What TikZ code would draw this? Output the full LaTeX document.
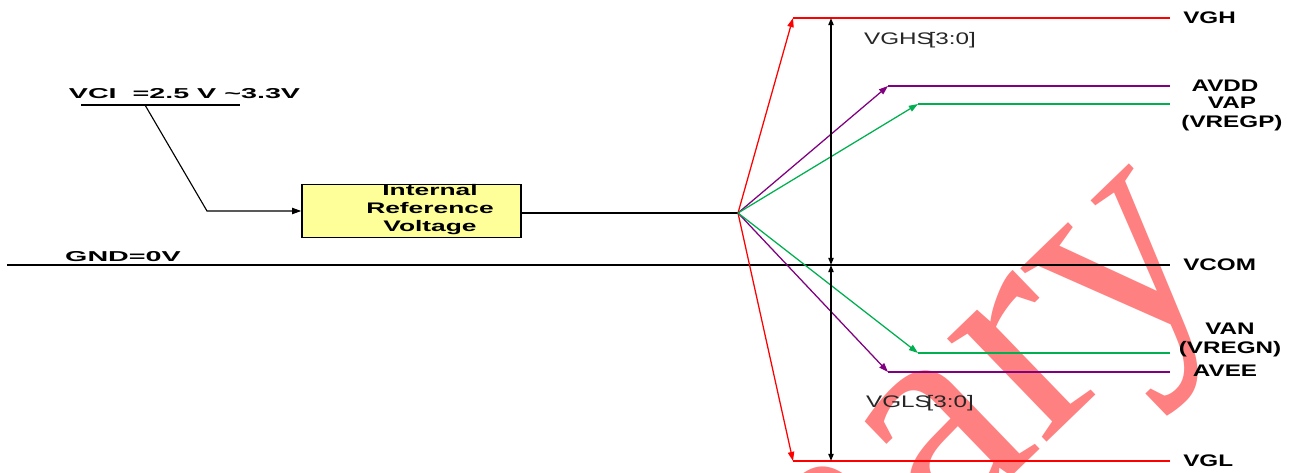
\documentclass[tikz,border=0pt]{standalone}
\usepackage{fontspec}
\setmainfont{Liberation Sans}
\newfontfamily\railfont[FakeStretch=1.45]{Liberation Sans}
\newfontfamily\vcifont[FakeStretch=2.0]{Liberation Sans}
\newfontfamily\boxfont[FakeStretch=1.72]{Liberation Sans}
\newfontfamily\stepfont[FakeStretch=1.45]{Liberation Sans}
\newfontfamily\wmfont{Liberation Serif}
\usetikzlibrary{arrows.meta}
\definecolor{wmred}{RGB}{255,128,128}
\definecolor{vred}{RGB}{255,0,0}
\definecolor{vpurple}{RGB}{128,0,128}
\definecolor{vgreen}{RGB}{0,176,80}
\definecolor{irvfill}{RGB}{255,255,153}

\begin{document}
\begin{tikzpicture}[x=0.025cm,y=0.025cm,
   tip/.style={-{Triangle[length=6.5pt,width=4.5pt]}},
   dimtip/.style={{Triangle[length=5pt,width=3.6pt]}-{Triangle[length=5pt,width=3.6pt]}},
   fanline/.style={line width=0.9pt},
   rail/.style={line width=1.9pt},
   rlabel/.style={inner sep=0pt,align=center,font=\railfont\bfseries\fontsize{11.9}{13.5}\selectfont},
   vlabel/.style={inner sep=0pt,font=\vcifont\bfseries\fontsize{10.2}{11}\selectfont},
   steplabel/.style={inner sep=0pt,text=black!85,font=\stepfont\fontsize{11.9}{13}\selectfont},
   irv/.style={draw,line width=1.1pt,fill=irvfill,minimum width=5.475cm,minimum height=1.325cm,inner sep=0pt},
   irvtext/.style={align=center,inner sep=0pt,font=\boxfont\bfseries\fontsize{10.9}{12.8}\selectfont},
   wmark/.style={anchor=base east,rotate=44,inner sep=0pt,text=wmred,font=\wmfont\fontsize{222}{222}\selectfont}]
   \useasboundingbox (0,0) rectangle (1298,-473);
   % watermark
   \begin{scope}
   \clip (0,0) rectangle (1298,-473);
   \node[wmark] (WM) at (1230,-266) {Preliminary};
   \end{scope}

   % supply input
   \node[vlabel] (VCI) at (184.5,-94) {VCI\ \ =2.5 V \textasciitilde3.3V};
   \coordinate (ulA) at (81,-105);
   \coordinate (ulB) at (240,-105);
   \coordinate (tap) at (145,-105);
   \coordinate (bend) at (207,-211);
   \node[irv] (IRV) at (411.5,-211) {};
   \node[irvtext] (IRVT) at (430,-210) {Internal\\Reference\\Voltage};
   \draw[line width=1pt] (ulA) -- (ulB);
   \draw[line width=0.8pt,tip] (tap) -- (bend) -- (IRV.west);

   % ground / VCOM
   \node[vlabel] (GND) at (123,-257) {GND=0V};
   \coordinate (gndA) at (7,-265);
   \coordinate (gndB) at (1170,-265);
   \draw[line width=1.3pt] (gndA) -- (gndB);

   % fan out
   \coordinate (fan) at (738,-213);
   \draw[line width=1pt] (IRV.east |- fan) -- (fan);
   \coordinate (vghc) at (793,-18);   \coordinate (vghe) at (1170,-18);
   \coordinate (avddc) at (888,-86);  \coordinate (avdde) at (1170,-86);
   \coordinate (vapc) at (918,-104);  \coordinate (vape) at (1170,-104);
   \coordinate (vanc) at (918,-353);  \coordinate (vane) at (1170,-353);
   \coordinate (aveec) at (888,-372); \coordinate (aveee) at (1170,-372);
   \coordinate (vglc) at (793,-461);  \coordinate (vgle) at (1170,-461);
   \path[fanline,tip,vred] (fan) edge (vghc) (fan) edge (vglc);
   \path[fanline,tip,vpurple] (fan) edge (avddc) (fan) edge (aveec);
   \path[fanline,tip,vgreen] (fan) edge (vapc) (fan) edge (vanc);
   \path[rail,vred] (vghc) edge (vghe) (vglc) edge (vgle);
   \path[rail,vpurple] (avddc) edge (avdde) (aveec) edge (aveee);
   \path[rail,vgreen] (vapc) edge (vape) (vanc) edge (vane);

   % VGH / VGL ranges
   \coordinate (dimT) at (831,-18);
   \coordinate (dimM) at (831,-265);
   \coordinate (dimB) at (831,-461);
   \path[line width=1.1pt,dimtip] (dimM) edge (dimT) (dimM) edge (dimB);
   \node[steplabel] (VGHS) at (920,-40) {VGHS\kern-3pt[3:0]};
   \node[steplabel] (VGLS) at (920,-403) {VGLS\kern-3pt[3:0]};

   % rail names
   \node[rlabel,anchor=west] (VGH) at (1183,-18) {VGH};
   \node[rlabel] (AVDD) at (1225,-86) {AVDD};
   \node[rlabel] (VAP) at (1232,-113.5) {VAP\\(VREGP)};
   \node[rlabel,anchor=west] (VCOM) at (1183,-265) {VCOM};
   \node[rlabel] (VAN) at (1230,-340) {VAN\\(VREGN)};
   \node[rlabel] (AVEE) at (1225,-371) {AVEE};
   \node[rlabel,anchor=west] (VGL) at (1183,-461) {VGL};
\end{tikzpicture}
\end{document}
